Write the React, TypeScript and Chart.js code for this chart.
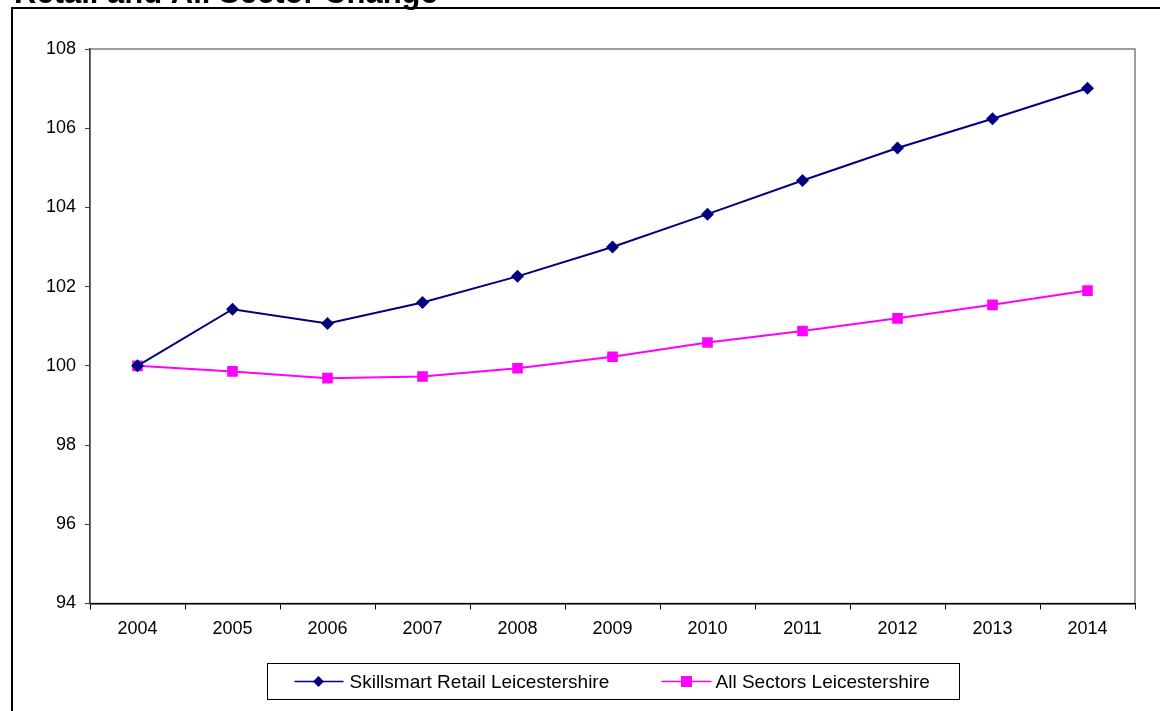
import React, { useEffect, useRef } from "react";
import { Chart, registerables } from "chart.js";

Chart.register(...registerables);

const titleText = "Retail and All Sector Change";
const years = ["2004", "2005", "2006", "2007", "2008", "2009", "2010", "2011", "2012", "2013", "2014"];
const retailName = "Skillsmart Retail Leicestershire";
const allSectorsName = "All Sectors Leicestershire";
const retailValues = [100, 101.43, 101.07, 101.6, 102.26, 103.0, 103.83, 104.68, 105.5, 106.24, 107.01];
const allSectorsValues = [100, 99.86, 99.69, 99.73, 99.94, 100.23, 100.59, 100.88, 101.2, 101.54, 101.9];
const yMin = 94;
const yMax = 108;
const yStep = 2;

const FONT = "Arial, 'Liberation Sans', sans-serif";
const NAVY = "#000080";
const PINK = "#FF00FF";

function drawDiamond(ctx: CanvasRenderingContext2D, x: number, y: number, r: number, color: string) {
  ctx.beginPath();
  ctx.moveTo(x, y - r);
  ctx.lineTo(x + r, y);
  ctx.lineTo(x, y + r);
  ctx.lineTo(x - r, y);
  ctx.closePath();
  ctx.fillStyle = color;
  ctx.fill();
}

function drawSquare(ctx: CanvasRenderingContext2D, x: number, y: number, h: number, color: string) {
  ctx.fillStyle = color;
  ctx.fillRect(x - h, y - h, 2 * h, 2 * h);
}

const decorPlugin = {
  id: "decor",
  beforeDraw(chart: any) {
    const ctx: CanvasRenderingContext2D = chart.ctx;
    ctx.save();
    ctx.fillStyle = "#fff";
    ctx.fillRect(0, 0, chart.width, chart.height);
    // cropped title
    ctx.fillStyle = "#000";
    ctx.font = `bold 31px ${FONT}`;
    ctx.textBaseline = "alphabetic";
    ctx.textAlign = "left";
    ctx.fillText(titleText, 14, 2.5);
    // outer frame
    ctx.fillStyle = "#000";
    ctx.fillRect(11, 7, chart.width, 2);
    ctx.fillRect(11, 7, 2, chart.height);
    // plot area border
    const a = chart.chartArea;
    ctx.strokeStyle = "#808080";
    ctx.lineWidth = 1.5;
    ctx.strokeRect(a.left, a.top, a.right - a.left, a.bottom - a.top);
    ctx.restore();
  },
  afterDraw(chart: any) {
    const ctx: CanvasRenderingContext2D = chart.ctx;
    const a = chart.chartArea;
    const boxW = 692;
    const boxH = 36;
    const cx = (a.left + a.right) / 2;
    const left = Math.round(cx - boxW / 2) + 0.5;
    const top = 663.5;
    ctx.save();
    ctx.strokeStyle = "#000";
    ctx.lineWidth = 1;
    ctx.strokeRect(left, top, boxW, boxH);
    const my = top + boxH / 2;
    ctx.font = `19px ${FONT}`;
    ctx.textBaseline = "middle";
    ctx.textAlign = "left";
    // item 1
    ctx.strokeStyle = NAVY;
    ctx.lineWidth = 1.5;
    ctx.beginPath();
    ctx.moveTo(left + 27, my);
    ctx.lineTo(left + 76, my);
    ctx.stroke();
    drawDiamond(ctx, left + 51, my, 5.5, NAVY);
    ctx.fillStyle = "#000";
    ctx.fillText(retailName, left + 82, my + 1);
    // item 2
    ctx.strokeStyle = PINK;
    ctx.beginPath();
    ctx.moveTo(left + 394, my);
    ctx.lineTo(left + 444, my);
    ctx.stroke();
    drawSquare(ctx, left + 419, my, 5.5, PINK);
    ctx.fillStyle = "#000";
    ctx.fillText(allSectorsName, left + 448, my + 1);
    ctx.restore();
  },
};

export default function App() {
  const ref = useRef<HTMLCanvasElement | null>(null);

  useEffect(() => {
    if (!ref.current) return;
    const tickFont = { family: FONT, size: 18 };
    const chart = new Chart(ref.current, {
      type: "line",
      data: {
        labels: years,
        datasets: [
          {
            label: retailName,
            data: retailValues,
            borderColor: NAVY,
            backgroundColor: NAVY,
            borderWidth: 2,
            pointStyle: "rectRot",
            pointRadius: 6.5,
            pointBorderWidth: 0,
            tension: 0,
            fill: false,
          },
          {
            label: allSectorsName,
            data: allSectorsValues,
            borderColor: PINK,
            backgroundColor: PINK,
            borderWidth: 2,
            pointStyle: "rect",
            pointRadius: 7.5,
            pointBorderWidth: 0,
            tension: 0,
            fill: false,
          },
        ],
      },
      options: {
        responsive: false,
        animation: false,
        events: [],
        devicePixelRatio: 1,
        layout: { padding: { left: 20, right: 25, top: 49, bottom: 57.5 } },
        plugins: {
          legend: { display: false },
          tooltip: { enabled: false },
          title: { display: false },
        },
        scales: {
          x: {
            offset: true,
            grid: { offset: true, drawOnChartArea: false, drawTicks: true, tickLength: 6, color: "#000", lineWidth: 1 },
            border: { color: "#000", width: 1.5 },
            ticks: { color: "#000", font: tickFont, padding: 9, maxRotation: 0, autoSkip: false },
            afterFit: (s: any) => {
              s.height = 50;
            },
          },
          y: {
            min: yMin,
            max: yMax,
            grid: { drawOnChartArea: false, drawTicks: true, tickLength: 5, color: "#404040", lineWidth: 1 },
            border: { color: "#404040", width: 1.5 },
            ticks: { stepSize: yStep, color: "#000", font: tickFont, padding: 9 },
            afterFit: (s: any) => {
              s.width = 70;
            },
          },
        },
      },
      plugins: [decorPlugin],
    });
    return () => chart.destroy();
  }, []);

  return (
    <div style={{ position: "fixed", left: 0, top: 0, width: 1160, height: 711, overflow: "hidden", background: "#fff" }}>
      <canvas ref={ref} width={1160} height={711} style={{ display: "block", width: 1160, height: 711 }} />
    </div>
  );
}
